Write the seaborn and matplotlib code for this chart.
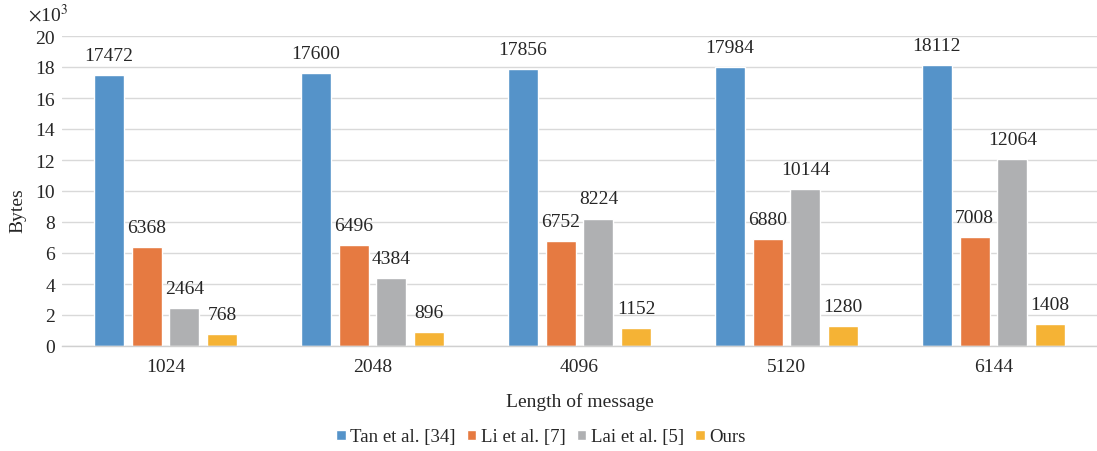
import matplotlib
matplotlib.use("Agg")
import matplotlib.pyplot as plt
import seaborn as sns
import pandas as pd

lengths = ["1024", "2048", "4096", "5120", "6144"]
methods = ["Tan et al. [34]", "Li et al. [7]", "Lai et al. [5]", "Ours"]
tan = [17472, 17600, 17856, 17984, 18112]
li = [6368, 6496, 6752, 6880, 7008]
lai = [2464, 4384, 8224, 10144, 12064]
ours = [768, 896, 1152, 1280, 1408]
colors = ["#5593C9", "#E67A41", "#AFB0B2", "#F5B335"]

rows = []
for m, vals in zip(methods, [tan, li, lai, ours]):
    for l, v in zip(lengths, vals):
        rows.append({"length": l, "method": m, "bytes": v, "k": v / 1000})
df = pd.DataFrame(rows)

sns.set_theme(style="white")
plt.rcParams["font.family"] = ["Liberation Serif", "DejaVu Serif"]
plt.rcParams["mathtext.fontset"] = "stix"

TXT = "#262626"
FS = 14

fig = plt.figure(figsize=(10.97, 4.52), dpi=100)
ax = fig.add_axes([62 / 1097, (452 - 347) / 452, (1097 - 62) / 1097, 310 / 452])

sns.barplot(data=df, x="length", y="k", hue="method", hue_order=methods,
            order=lengths, palette=colors, width=0.73, gap=0.21,
            saturation=1, ax=ax, legend=True)

for container, m in zip(ax.containers, methods):
    labels = [str(v) for v in df[df.method == m]["bytes"]]
    ax.bar_label(container, labels=labels, padding=8, fontsize=FS, color=TXT)

ax.set_ylim(0, 20)
ax.set_yticks(range(0, 21, 2))
ax.tick_params(axis="y", labelsize=FS, length=0, pad=5, colors=TXT)
ax.tick_params(axis="x", labelsize=FS, length=0, pad=9, colors=TXT)
ax.yaxis.grid(True, color="#D9D9D9", linewidth=1)
ax.set_axisbelow(True)
for s in ["top", "right", "left"]:
    ax.spines[s].set_visible(False)
ax.spines["bottom"].set_color("#D0D0D0")
ax.spines["bottom"].set_linewidth(1)

ax.set_xlabel("Length of message", fontsize=FS, color=TXT, labelpad=12)
ax.set_ylabel("Bytes", fontsize=FS, color=TXT)
ax.yaxis.set_label_coords(-36 / 1035, 0.44)
fig.text(28 / 1097, (452 - 15) / 452, r"$\times$10$^3$", fontsize=FS,
         color=TXT, va="center", ha="left")

handles, labels = ax.get_legend_handles_labels()
ax.get_legend().remove()
leg = fig.legend(handles, labels, loc="center", bbox_to_anchor=(541 / 1097, 14 / 452),
                 ncol=4, frameon=False, fontsize=13.5, handlelength=0.5,
                 handleheight=0.5, handletextpad=0.25, columnspacing=0.6)
for t in leg.get_texts():
    t.set_color(TXT)

fig.savefig("out.png", dpi=100)
